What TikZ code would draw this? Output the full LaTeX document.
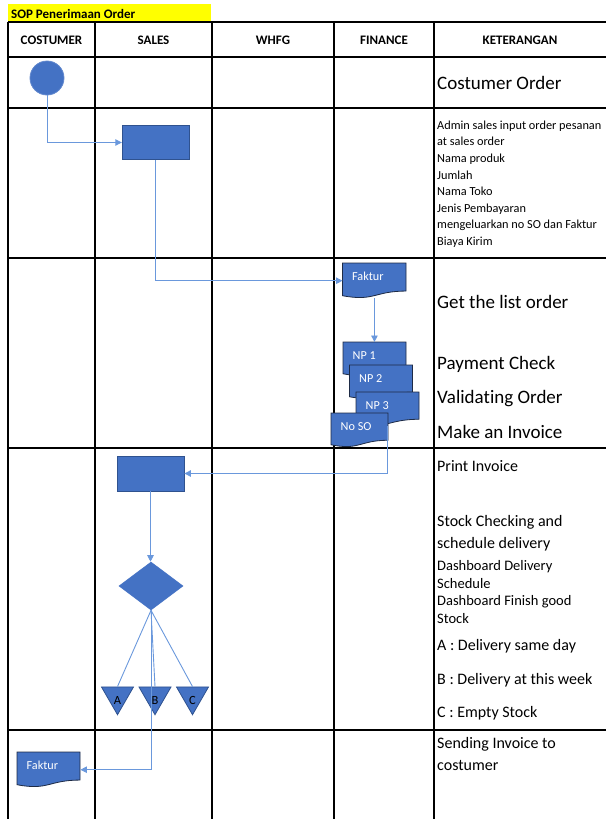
\documentclass[tikz,border=0pt]{standalone}
\usepackage{fontspec}
\setmainfont{Carlito}[Ligatures=NoCommon]
\usetikzlibrary{arrows.meta,shapes.geometric,calc}

\definecolor{shapefill}{HTML}{4472C4}
\definecolor{shapeline}{HTML}{2F528F}
\definecolor{connline}{HTML}{6A98DC}
\definecolor{docline}{HTML}{1E2B45}
\definecolor{titlebg}{HTML}{FFFF00}

\tikzset{
  grid/.style={line width=1.2pt, black},
  conn/.style={draw=connline, line width=0.9pt},
  connarrow/.style={conn, -{Triangle[length=6.5pt,width=6.5pt]}},
  docshape/.style={fill=shapefill, draw=docline, line width=0.8pt},
  docanchor/.style={rectangle, draw=none, inner sep=0pt},
  doctext/.style={text=white, font=\fontsize{12.2}{14}\selectfont, inner sep=0pt},
  procbox/.style={rectangle, fill=shapefill, draw=shapeline, line width=0.8pt,
    minimum width=67, minimum height=34, inner sep=0pt},
  startnode/.style={circle, fill=shapefill, draw=shapefill!85!white, line width=0.8pt,
    minimum size=34, inner sep=0pt},
  decision/.style={diamond, fill=shapefill, draw=shapefill, line width=0.6pt,
    minimum width=64, minimum height=48, inner sep=0pt},
  outcome/.style={regular polygon, regular polygon sides=3, shape border rotate=180,
    fill=shapefill, draw=shapeline, line width=0.8pt, minimum size=37, inner sep=0pt},
  outlbl/.style={text=black, font=\fontsize{12.5}{14}\selectfont, inner sep=0pt},
  headtxt/.style={anchor=base, font=\bfseries\fontsize{13}{15}\selectfont, inner sep=0pt},
  bigtxt/.style={anchor=base west, font=\fontsize{19}{22}\selectfont, inner sep=0pt},
  midtxt/.style={anchor=base west, font=\fontsize{16}{19}\selectfont, inner sep=0pt},
  dashtxt/.style={anchor=base west, font=\fontsize{14.5}{17}\selectfont, inner sep=0pt},
  smalltxt/.style={anchor=base west, font=\fontsize{12.3}{15}\selectfont, inner sep=0pt},
}

% document symbol: name, left, top, width, height, caption
\newcommand\docbox[6]{%
  \pgfmathsetmacro\dbR{#2+#4}%
  \pgfmathsetmacro\dbM{#2+0.5*#4}%
  \pgfmathsetmacro\dbYr{#3+0.802*#5}%
  \pgfmathsetmacro\dbYc{#3+1.107*#5}%
  \pgfmathsetmacro\dbYl{#3+0.934*#5}%
  \filldraw[docshape] (#2,#3) -- (\dbR,#3) -- (\dbR,\dbYr)
    .. controls (\dbM,\dbYr) and (\dbM,\dbYc) .. (#2,\dbYl) -- cycle;
  \node[docanchor, minimum width=#4, minimum height=#5, anchor=north west] (#1) at (#2,#3) {};
  \node[doctext, anchor=base west] (#1-t) at (#2+9.5,#3+17) {#6};
}

\begin{document}
\begin{tikzpicture}[x=1pt,y=-1pt]
\useasboundingbox (0,0) rectangle (606,819);

% title bar
\fill[titlebg] (8,4) rectangle (211,21);
\node[anchor=base west, font=\bfseries\fontsize{13}{15}\selectfont, inner sep=0pt] (title) at (11,18) {SOP Penerimaan Order};

% table grid
\foreach \yy in {22,57,108,258,448,730}
  \draw[grid] (8,\yy) -- (606,\yy);
\foreach \xx in {8,95,212,334,434}
  \draw[grid] (\xx,22) -- (\xx,819);

% column headers
\node[headtxt] (hcost) at (51.5,44.5) {COSTUMER};
\node[headtxt] (hsales) at (153.5,44.5) {SALES};
\node[headtxt] (hwhfg) at (273,44.5) {WHFG};
\node[headtxt] (hfin) at (384,44.5) {FINANCE};
\node[headtxt] (hket) at (520,44.5) {KETERANGAN};

% flow symbols
\node[startnode] (start) at (47,78) {};
\node[procbox] (sales1) at (155.7,142.5) {};
\docbox{fak1}{342.5}{263}{63.5}{35}{Faktur}
\docbox{np1}{343}{342}{63}{34}{NP 1}
\docbox{np2}{349.5}{365}{63}{34}{NP 2}
\docbox{np3}{356}{392}{63}{34}{NP 3}
\docbox{noso}{331}{413}{57}{34}{No SO}
\node[procbox, minimum height=35] (sales2) at (150.5,473.5) {};
\node[decision] (dec) at (151,586) {};
\node[outcome] (triA) at (117.5,696.2) {};
\node[outcome] (triB) at (155,696.2) {};
\node[outcome] (triC) at (192.5,696.2) {};
\node[outlbl] (triA-t) at ($(triA.center)+(0,4)$) {A};
\node[outlbl] (triB-t) at ($(triB.center)+(0,4)$) {B};
\node[outlbl] (triC-t) at ($(triC.center)+(0,4)$) {C};
\docbox{fak2}{17}{752}{63}{35}{Faktur}

% connectors
\draw[connarrow] (start.south) |- (sales1.west);
\draw[connarrow] (sales1.south) |- (fak1.west);
\draw[connarrow] (fak1.south) -- (fak1.south |- np1.north);
\draw[connarrow] (np3.south) |- (sales2.east);
\draw[connarrow] (sales2.south) -- (sales2.south |- dec.north);
\draw[conn] (dec.south) -- (triA.north);
\draw[conn] (dec.south) -- (triB.north);
\draw[conn] (dec.south) -- (triC.north);
\draw[connarrow] (dec.south) |- (fak2.east);

% notes column
\node[bigtxt] (k1) at (437,89) {Costumer Order};
\foreach \t/\yy [count=\i] in {Admin sales input order pesanan/129.3,
    at sales order/145.9, Nama produk/162.4, Jumlah/179,
    Nama Toko/195.6, Jenis Pembayaran/212.2,
    mengeluarkan no SO dan Faktur/228.7, Biaya Kirim/245.3}
  \node[smalltxt] (adm\i) at (437,\yy) {\t};
\node[bigtxt] (k2) at (437,308) {Get the list order};
\node[bigtxt] (k3) at (437,369) {Payment Check};
\node[bigtxt] (k4) at (437,403.5) {Validating Order};
\node[bigtxt] (k5) at (437,438) {Make an Invoice};
\node[midtxt] (k6) at (437,471.5) {Print Invoice};
\node[midtxt] (k7) at (437,526) {Stock Checking and};
\node[midtxt] (k8) at (437,548) {schedule delivery};
\node[dashtxt] (k9) at (437,570) {Dashboard Delivery};
\node[dashtxt] (k10) at (437,588) {Schedule};
\node[dashtxt] (k11) at (437,605) {Dashboard Finish good};
\node[dashtxt] (k12) at (437,623.5) {Stock};
\node[midtxt] (k13) at (437,650) {A : Delivery same day};
\node[midtxt] (k14) at (437,684.5) {B : Delivery at this week};
\node[midtxt] (k15) at (437,717) {C : Empty Stock};
\node[midtxt] (k16) at (437,748.5) {Sending Invoice to};
\node[midtxt] (k17) at (437,770) {costumer};
\end{tikzpicture}
\end{document}
